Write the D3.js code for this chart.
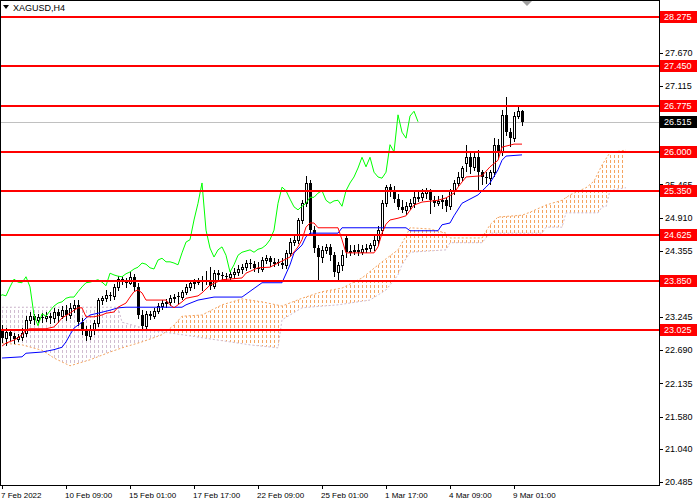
<!DOCTYPE html>
<html>
<head>
<meta charset="utf-8">
<script src="https://cdn.jsdelivr.net/npm/d3@7"></script>
<style>
  body { margin: 0; background: #fff; }
  svg { display: block; font-family: "Liberation Sans", Arial, sans-serif; }
</style>
</head>
<body>
<div id="chart"></div>
<script>
// XAGUSD H4 candles, 7 Feb 17:00 .. 9 Mar 09:00
const opens = [
  23.03,22.90,23.00,22.93,22.88,22.91,22.98,23.20,23.26,23.20,
  23.25,23.23,23.26,23.23,23.33,23.26,23.36,23.28,23.40,23.45,
  23.16,23.03,22.93,23.03,23.15,23.53,23.56,23.62,23.60,23.75,
  23.88,23.83,23.82,23.92,23.75,23.28,23.10,23.30,23.26,23.35,
  23.43,23.48,23.50,23.56,23.60,23.58,23.67,23.75,23.82,23.83,
  23.85,23.87,23.83,23.77,23.98,23.95,23.93,23.92,23.97,24.00,
  24.05,24.08,24.15,24.13,24.07,24.05,24.20,24.23,24.15,24.17,
  24.15,24.12,24.32,24.50,24.54,24.87,25.15,25.49,24.70,24.40,
  24.25,24.37,24.42,24.28,24.00,24.12,24.57,24.33,24.35,24.37,
  24.33,24.38,24.40,24.45,24.54,24.70,25.15,25.42,25.36,25.22,
  25.09,25.04,25.10,25.15,25.23,25.25,25.32,25.36,25.20,25.15,
  25.19,25.20,25.10,25.36,25.49,25.59,25.82,25.92,25.76,25.92,
  25.67,25.59,25.57,25.67,26.13,26.01,26.63,26.34,26.24,26.61,
  26.69]
const highs = [
  23.11,23.06,23.03,22.98,22.96,23.06,23.26,23.33,23.30,23.30,
  23.31,23.33,23.31,23.40,23.38,23.43,23.45,23.48,23.53,23.53,
  23.23,23.10,23.11,23.20,23.56,23.60,23.70,23.67,23.80,23.93,
  23.92,23.90,24.00,23.97,23.82,23.36,23.35,23.35,23.40,23.48,
  23.53,23.55,23.62,23.63,23.67,23.70,23.80,23.87,23.88,23.90,
  23.93,24.02,24.08,24.03,24.03,24.00,23.98,24.02,24.07,24.12,
  24.13,24.20,24.22,24.18,24.17,24.25,24.28,24.27,24.23,24.22,
  24.23,24.37,24.57,24.60,24.90,25.20,25.61,25.54,24.77,24.45,
  24.44,24.47,24.47,24.33,24.17,24.37,24.64,24.45,24.45,24.47,
  24.45,24.47,24.49,24.60,24.77,25.20,25.46,25.47,25.44,25.30,
  25.20,25.17,25.22,25.34,25.34,25.39,25.41,25.39,25.27,25.27,
  25.29,25.24,25.39,25.54,25.67,25.77,26.13,25.99,26.01,26.04,
  25.71,25.67,25.71,26.24,26.23,26.71,26.93,26.41,26.68,26.76,
  26.71]
const lows = [
  22.83,22.78,22.86,22.81,22.85,22.86,22.93,23.15,23.13,23.16,
  23.16,23.18,23.15,23.16,23.16,23.23,23.20,23.23,23.33,23.11,
  22.96,22.86,22.88,22.96,23.10,23.46,23.51,23.53,23.55,23.70,
  23.80,23.75,23.80,23.70,23.23,23.05,23.06,23.21,23.23,23.31,
  23.38,23.41,23.45,23.50,23.48,23.55,23.63,23.70,23.73,23.80,
  23.70,23.80,23.72,23.73,23.87,23.87,23.85,23.87,23.90,23.95,
  23.98,24.03,24.07,24.02,24.00,24.02,24.15,24.10,24.10,24.12,
  24.07,24.07,24.27,24.45,24.49,24.82,25.10,24.64,24.33,23.87,
  24.17,24.32,24.20,23.93,23.88,24.03,24.25,24.28,24.30,24.28,
  24.30,24.33,24.35,24.37,24.45,24.65,25.10,25.27,25.17,25.05,
  25.00,24.97,25.05,25.09,25.19,25.20,25.24,24.99,25.10,25.12,
  25.07,25.02,25.05,25.30,25.44,25.54,25.69,25.66,25.71,25.37,
  25.47,25.49,25.47,25.61,25.91,25.96,26.29,26.11,26.19,26.58,
  26.46]
const closes = [
  22.90,23.00,22.93,22.88,22.91,22.98,23.20,23.26,23.20,23.25,
  23.23,23.26,23.23,23.33,23.26,23.36,23.28,23.40,23.45,23.16,
  23.03,22.93,23.03,23.15,23.53,23.56,23.62,23.60,23.75,23.88,
  23.83,23.82,23.92,23.75,23.28,23.10,23.30,23.26,23.35,23.43,
  23.48,23.50,23.56,23.58,23.58,23.67,23.75,23.82,23.83,23.85,
  23.87,23.83,23.77,23.98,23.95,23.93,23.92,23.97,24.00,24.05,
  24.08,24.15,24.13,24.07,24.05,24.20,24.23,24.17,24.17,24.15,
  24.12,24.32,24.50,24.54,24.87,25.15,25.49,24.70,24.40,24.25,
  24.37,24.42,24.28,24.00,24.12,24.28,24.33,24.35,24.37,24.33,
  24.38,24.40,24.45,24.54,24.70,25.15,25.42,25.36,25.22,25.09,
  25.04,25.10,25.15,25.25,25.25,25.32,25.36,25.20,25.15,25.19,
  25.20,25.10,25.36,25.49,25.59,25.74,25.92,25.76,25.92,25.67,
  25.59,25.57,25.67,26.13,26.01,26.63,26.34,26.24,26.61,26.69,
  26.515]

// Ichimoku lines as [bar, price] points
const tenkan = [[0,22.76],[1,22.81],[3,22.86],[4,22.90],[5,22.95],[6,23.03],[7,23.05],[11,23.05],[13,23.08],[14,23.15],
  [15,23.23],[17,23.31],[18,23.36],[19,23.40],[20,23.40],[21,23.25],[23,23.25],[25,23.28],[26,23.31],[28,23.33],
  [29,23.41],[31,23.48],[32,23.58],[33,23.67],[34,23.70],[35,23.65],[36,23.53],[41,23.53],[42,23.45],[43,23.40],
  [44,23.45],[45,23.50],[46,23.56],[49,23.60],[50,23.65],[52,23.78],[55,23.87],[60,23.90],[61,23.98],[64,24.07],
  [67,24.08],[69,24.15],[72,24.25],[74,24.42],[75,24.54],[76,24.75],[77,24.82],[78,24.82],[79,24.74],[84,24.74],
  [85,24.54],[86,24.32],[93,24.32],[94,24.42],[95,24.65],[96,24.80],[97,24.87],[99,24.90],[101,24.94],[103,25.12],
  [105,25.17],[109,25.20],[111,25.24],[113,25.32],[114,25.42],[116,25.59],[120,25.61],[122,25.76],[124,25.87],[125,26.09],
  [128,26.14],[130,26.14]]
const kijun = [[0,22.56],[5,22.58],[6,22.64],[10,22.66],[13,22.70],[15,22.74],[16,22.83],[17,22.95],[18,23.06],[20,23.16],
  [21,23.23],[22,23.28],[24,23.31],[27,23.36],[29,23.40],[31,23.41],[45,23.41],[46,23.45],[49,23.53],[53,23.58],
  [60,23.58],[65,23.82],[70,23.82],[72,24.12],[73,24.32],[75,24.45],[76,24.59],[77,24.65],[84,24.65],[85,24.74],
  [101,24.74],[102,24.69],[109,24.69],[110,24.79],[112,24.82],[113,24.94],[115,25.15],[117,25.22],[119,25.29],[121,25.42],
  [122,25.49],[124,25.71],[125,25.87],[126,25.94],[130,25.96]]
const spanA = [[0,22.81],[5,22.78],[10,22.69],[13,22.56],[17,22.43],[22,22.53],[27,22.66],[30,22.73],[35,22.83],[40,22.95],
  [43,23.11],[45,23.26],[50,23.28],[55,23.45],[60,23.55],[65,23.50],[70,23.43],[75,23.56],[80,23.67],[85,23.73],
  [90,23.90],[95,24.17],[99,24.37],[101,24.60],[102,24.74],[107,24.72],[111,24.65],[112,24.57],[120,24.57],[122,24.79],
  [124,24.92],[130,24.95],[132,25.00],[136,25.12],[140,25.20],[142,25.29],[146,25.41],[148,25.52],[150,25.79],[152,26.00],
  [156,26.04]]
const spanB = [[0,23.41],[29,23.41],[30,23.16],[37,23.03],[50,22.90],[62,22.78],[69,22.73],[70,23.20],[75,23.40],[84,23.45],
  [92,23.53],[96,23.70],[99,23.95],[100,24.12],[102,24.33],[111,24.37],[112,24.49],[120,24.49],[122,24.65],[135,24.65],
  [136,24.75],[140,24.75],[141,24.99],[149,24.99],[150,25.09],[151,25.09],[152,25.37],[156,25.41]]
const chikouShift = 26
const twistBar = 41

const levels = [28.275, 27.450, 26.775, 26.000, 25.350, 24.625, 23.850, 23.025]
const lastPrice = 26.515
const priceTicks = [20.485, 21.040, 21.580, 22.135, 22.690, 23.245, 23.800, 24.355, 24.910, 25.465, 26.560, 27.115, 27.670, 28.225]
const timeBars = [0, 16, 32, 48, 64, 80, 96, 112, 128]
const timeLabels = ["7 Feb 2022", "10 Feb 09:00", "15 Feb 01:00", "17 Feb 17:00", "22 Feb 09:00", "25 Feb 01:00", "1 Mar 17:00", "4 Mar 09:00", "9 Mar 01:00"]

const W = 700, H = 500
const plotR = 659, plotB = 485

const x = d3.scaleLinear().domain([-0.5, 164.25]).range([0, plotR])
const y = d3.scaleLinear().domain([20.485, 27.670]).range([482, 52.7])

const svg = d3.select("#chart").append("svg")
  .attr("width", W).attr("height", H)
svg.append("rect").attr("width", W).attr("height", H).attr("fill", "#fff")

const defs = svg.append("defs")
defs.append("clipPath").attr("id", "plot")
  .append("rect").attr("x", 0).attr("y", 0).attr("width", plotR).attr("height", plotB)
defs.append("clipPath").attr("id", "cloudL")
  .append("rect").attr("x", 0).attr("y", 0).attr("width", x(twistBar)).attr("height", plotB)
defs.append("clipPath").attr("id", "cloudR")
  .append("rect").attr("x", x(twistBar)).attr("y", 0).attr("width", plotR - x(twistBar)).attr("height", plotB)

// dotted vertical hatching, one column per bar
function hatch(id, color) {
  const p = defs.append("pattern").attr("id", id)
    .attr("patternUnits", "userSpaceOnUse")
    .attr("x", 0).attr("y", 0).attr("width", 4).attr("height", 5)
  p.append("rect").attr("x", 2).attr("y", 0).attr("width", 1).attr("height", 3).attr("fill", color)
}
hatch("hatchUp", "#f4a460")
hatch("hatchDn", "#d0bcd0")

const g = svg.append("g").attr("clip-path", "url(#plot)")

// current price line
g.append("line")
  .attr("x1", 0).attr("x2", plotR)
  .attr("y1", Math.round(y(lastPrice)) + 0.5).attr("y2", Math.round(y(lastPrice)) + 0.5)
  .attr("stroke", "#c0c0c0")

// cloud
const pts = spanA.map(d => [x(d[0]), y(d[1])])
  .concat(spanB.slice().reverse().map(d => [x(d[0]), y(d[1])]))
const cloudPath = "M" + pts.map(p => p.join(",")).join("L") + "Z"
g.append("path").attr("d", cloudPath).attr("fill", "url(#hatchDn)").attr("clip-path", "url(#cloudL)")
g.append("path").attr("d", cloudPath).attr("fill", "url(#hatchUp)").attr("clip-path", "url(#cloudR)")

const line = d3.line().x(d => x(d[0])).y(d => y(d[1]))
g.append("path").datum(spanA).attr("d", line)
  .attr("fill", "none").attr("stroke", "#f4a460").attr("stroke-dasharray", "2,2")
g.append("path").datum(spanB).attr("d", line)
  .attr("fill", "none").attr("stroke", "#d0bcd0").attr("stroke-dasharray", "2,2")

// candles
const bars = d3.range(closes.length)
g.selectAll(".wick").data(bars).join("line")
  .attr("class", "wick")
  .attr("x1", i => x(i) + 0.5).attr("x2", i => x(i) + 0.5)
  .attr("y1", i => Math.round(y(highs[i]))).attr("y2", i => Math.round(y(lows[i])) + 1)
  .attr("stroke", "#000")
g.selectAll(".body").data(bars).join("rect")
  .attr("class", "body")
  .attr("shape-rendering", "crispEdges")
  .attr("x", i => closes[i] >= opens[i] ? x(i) - 0.5 : x(i) - 1)
  .attr("width", i => closes[i] >= opens[i] ? 2 : 3)
  .attr("y", i => Math.round(y(Math.max(opens[i], closes[i]))) + (closes[i] >= opens[i] ? 0.5 : 0))
  .attr("height", i => Math.max(1, Math.round(y(Math.min(opens[i], closes[i]))) - Math.round(y(Math.max(opens[i], closes[i])))))
  .attr("fill", i => closes[i] >= opens[i] ? "#fff" : "#000")
  .attr("stroke", i => closes[i] >= opens[i] ? "#000" : "none")

// ichimoku lines
const chikou = closes.map((c, i) => [i - chikouShift, c]).filter(d => d[0] >= -1)
g.append("path").datum(chikou).attr("d", line).attr("fill", "none").attr("stroke", "#00ff00")
g.append("path").datum(kijun).attr("d", line).attr("fill", "none").attr("stroke", "#0000ff")
g.append("path").datum(tenkan).attr("d", line).attr("fill", "none").attr("stroke", "#ff0000")

// horizontal levels
g.selectAll(".level").data(levels).join("line")
  .attr("class", "level")
  .attr("x1", 0).attr("x2", plotR)
  .attr("y1", d => Math.round(y(d))).attr("y2", d => Math.round(y(d)))
  .attr("stroke", "#ff0000").attr("stroke-width", 2)

// frame
svg.append("rect").attr("x", 0.5).attr("y", 0.5).attr("width", plotR).attr("height", plotB)
  .attr("fill", "none").attr("stroke", "#000")

// price axis
const ya = svg.append("g")
ya.selectAll("line").data(priceTicks).join("line")
  .attr("x1", plotR).attr("x2", plotR + 4)
  .attr("y1", d => Math.round(y(d)) + 0.5).attr("y2", d => Math.round(y(d)) + 0.5)
  .attr("stroke", "#000")
ya.selectAll("text").data(priceTicks).join("text")
  .attr("x", plotR + 6).attr("y", d => y(d)).attr("dy", "0.35em")
  .attr("font-size", 9).attr("fill", "#000")
  .text(d => d.toFixed(3))

function tag(v, color) {
  const t = svg.append("g").attr("transform", `translate(${plotR + 1},${Math.round(y(v))})`)
  t.append("rect").attr("x", 0).attr("y", -6).attr("width", 37).attr("height", 12).attr("fill", color)
  t.append("text").attr("x", 4).attr("y", 0).attr("dy", "0.35em")
    .attr("font-size", 9).attr("fill", "#fff").text(v.toFixed(3))
}
levels.forEach(v => tag(v, "#ff0000"))
tag(lastPrice, "#000")

// time axis
const xa = svg.append("g")
xa.selectAll("line").data(timeBars).join("line")
  .attr("x1", d => x(d) + 0.5).attr("x2", d => x(d) + 0.5)
  .attr("y1", plotB).attr("y2", plotB + 4)
  .attr("stroke", "#000")
xa.selectAll("text").data(timeBars).join("text")
  .attr("x", d => x(d) - 1).attr("y", 498)
  .attr("font-size", 8).attr("fill", "#000")
  .text((d, i) => timeLabels[i])

// symbol caption and shift marker
svg.append("path").attr("d", "M3,5L9,5L6,9Z").attr("fill", "#000")
svg.append("text").attr("x", 13).attr("y", 11).attr("font-size", 9).attr("fill", "#000").text("XAGUSD,H4")
svg.append("path").attr("d", "M522,1L532,1L527,6Z").attr("fill", "#a0a0a0")
</script>
</body>
</html>
